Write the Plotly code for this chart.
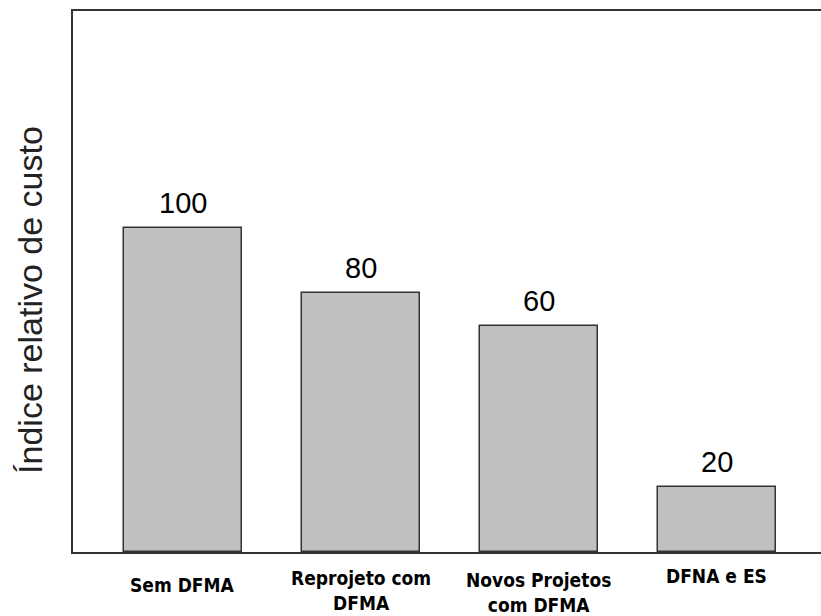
import plotly.graph_objects as go

# ---- data ----
categories = ["Sem DFMA", "Reprojeto com<br>DFMA", "Novos Projetos<br>com DFMA", "DFNA e ES"]
bar_heights = [100, 80, 70, 20]          # drawn bar heights
value_labels = ["100", "80", "60", "20"]  # numbers printed above the bars
y_title = "Índice relativo de custo"

# per-label vertical nudges (px) of the category captions
caption_shift = [-20, -13, -15, -11]

fig = go.Figure()
fig.add_trace(go.Bar(
    x=list(range(len(categories))),
    y=bar_heights,
    width=0.663,
    marker=dict(color="#C0C0C0", line=dict(color="#333333", width=1.5)),
    hoverinfo="skip",
))

annotations = []
for i, (h, lab) in enumerate(zip(bar_heights, value_labels)):
    annotations.append(dict(
        x=i, y=h, xref="x", yref="y", text=lab, showarrow=False,
        xanchor="center", yanchor="bottom", yshift=7,
        font=dict(family="Liberation Sans, Arial", size=29, color="#000000"),
    ))
for i, cat in enumerate(categories):
    annotations.append(dict(
        x=i, y=0, xref="x", yref="paper", text="<b>" + cat.replace("<br>", "</b><br><b>") + "</b>",
        showarrow=False,
        xanchor="center", yanchor="top", yshift=caption_shift[i],
        font=dict(family="DejaVu Sans Condensed, DejaVu Sans", size=19, color="#000000"),
        align="center",
    ))
annotations.append(dict(
    x=0, y=0.466, xref="paper", yref="paper", text=y_title, showarrow=False,
    xanchor="center", yanchor="middle", xshift=-43, textangle=-90,
    font=dict(family="Liberation Sans, Arial", size=34, color="#222222"),
))

fig.update_layout(
    width=821, height=616,
    margin=dict(l=73, r=0, t=11, b=64),
    paper_bgcolor="white", plot_bgcolor="white",
    showlegend=False,
    bargap=0,
    annotations=annotations,
    xaxis=dict(range=[-0.616, 3.584], showgrid=False, zeroline=False,
               showticklabels=False, ticks="", showline=True, mirror=True,
               linecolor="#333333", linewidth=1.5),
    yaxis=dict(range=[0, 167.2], showgrid=False, zeroline=False,
               showticklabels=False, ticks="", showline=True,
               linecolor="#333333", linewidth=1.5),
)

fig.write_html("out.html")
